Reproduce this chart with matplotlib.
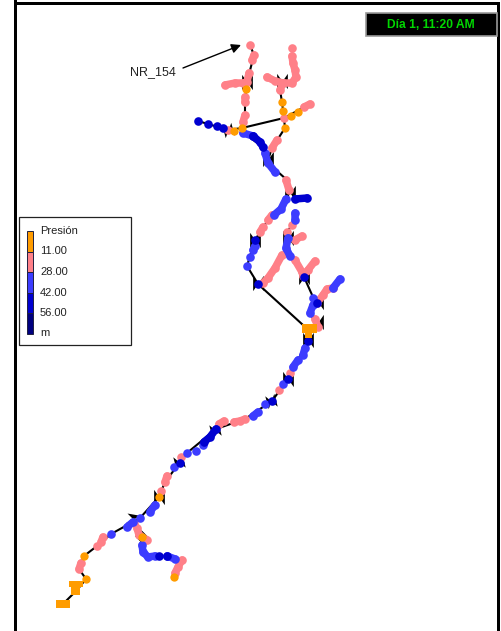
import matplotlib
matplotlib.use("Agg")
import matplotlib.pyplot as plt
from matplotlib.patches import Rectangle
from matplotlib.path import Path
from matplotlib.transforms import Affine2D

plt.rcParams['font.family'] = ['Liberation Sans', 'DejaVu Sans']

# pressure classes
ORANGE = '#FF9C00'
PINK = '#FF8088'
BLUE = '#3C3CFF'
DARK = '#0000D0'
NAVY = '#000080'

legend_labels = ['Presión', '11.00', '28.00', '42.00', '56.00', 'm']
legend_colors = [ORANGE, PINK, BLUE, DARK, NAVY]

# everything below, in image pixels
pipes = [
    [(250, 45), (254, 55), (247, 82), (245, 102), (245, 115), (242, 128), (228, 130), (198, 121)],
    [(242, 128), (284, 118), (282, 102), (280, 90), (283, 83)],
    [(284, 118), (310, 104)],
    [(284, 118), (285, 128), (272, 148), (268, 160)],
    [(242, 132), (263, 147), (268, 163), (287, 180), (289, 190), (286, 199), (282, 209),
     (268, 220), (255, 240), (247, 266), (258, 284), (303, 325)],
    [(295, 213), (292, 225), (287, 232), (288, 238), (286, 248)],
    [(304, 277), (313, 297), (310, 313), (315, 322)],
    [(308, 340), (298, 360), (288, 379), (272, 401), (245, 419), (216, 429), (187, 453),
     (165, 482), (159, 497), (140, 518), (111, 534), (97, 546), (84, 556), (79, 569),
     (86, 579), (77, 590), (63, 604)],
    [(134, 523), (142, 537)],
]

pink_runs = [
    [(250, 45)], [(254, 55), (252, 60)], [(249, 73), (247, 82), (243, 83), (235, 83), (225, 85)],
    [(245, 97), (245, 102)], [(245, 115), (243, 122)], [(228, 130)],
    [(292, 48)], [(292, 56), (293, 63), (295, 70), (296, 77), (292, 83), (283, 83), (275, 81), (267, 77)],
    [(283, 83), (280, 90)], [(284, 118)], [(304, 107), (310, 104)],
    [(277, 140), (272, 148)], [(286, 180), (289, 190)], [(292, 225)], [(287, 232)],
    [(295, 240), (302, 236)], [(295, 260), (302, 272)], [(303, 276), (308, 270), (315, 261)],
    [(282, 255), (275, 268), (268, 278), (263, 283)], [(260, 232), (263, 227)], [(268, 220), (272, 215)],
    [(317, 303), (323, 295), (327, 289), (333, 288)], [(315, 319), (318, 327)],
    [(290, 373)], [(279, 390)], [(245, 419), (240, 421), (234, 422)], [(224, 421), (219, 424)],
    [(181, 457)], [(167, 476), (165, 482)], [(161, 491)], [(134, 523)],
    [(103, 537), (101, 542)], [(97, 546)], [(81, 563), (79, 569)],
    [(137, 528), (139, 535), (147, 540)], [(182, 560), (178, 567), (175, 573)],
]

blue_runs = [
    [(243, 133), (253, 136)], [(265, 153), (268, 163), (275, 172)], [(274, 215), (281, 209), (286, 199)],
    [(295, 213), (295, 220)], [(288, 238), (286, 248), (290, 256)], [(247, 266)], [(250, 257)],
    [(253, 250), (255, 246)], [(313, 298)], [(313, 305), (310, 313)], [(333, 288), (340, 279)],
    [(305, 348), (303, 355)], [(298, 360), (293, 367)], [(283, 384)], [(265, 404)],
    [(258, 412), (253, 416)], [(203, 445)], [(196, 451)], [(187, 453)], [(174, 467)],
    [(155, 505), (150, 512)], [(140, 518)], [(127, 527), (133, 522)], [(111, 534)],
    [(142, 545), (143, 552), (148, 557), (155, 556)], [(167, 556), (175, 559)],
]

dark_runs = [
    [(198, 121)], [(208, 124)], [(217, 126)], [(223, 128)], [(253, 136), (260, 142), (263, 147)],
    [(295, 199), (307, 198)], [(255, 240)], [(258, 284)], [(304, 277)], [(317, 303)], [(308, 341)],
    [(288, 379)], [(272, 401)], [(216, 429), (210, 437), (204, 442)], [(180, 463)], [(159, 556)], [(167, 556)],
]

orange_nodes = [
    (246, 89), (242, 128), (234, 131), (282, 102), (283, 111), (291, 116), (298, 112), (285, 128),
    (159, 497), (142, 537), (84, 556), (86, 579), (174, 577),
]
# reservoirs / tanks, drawn as blocks: x0, y0, x1, y1
orange_blocks = [
    (302, 324, 317, 333), (305, 333, 312, 338), (69, 581, 83, 587), (71, 587, 80, 595), (56, 600, 70, 608),
]

valves_x = [247, 282, 228, 268, 290, 255, 288, 258, 304, 318, 318, 308, 288, 271, 215, 179, 159, 133, 142]
valves_y = [82, 81, 130, 159, 193, 240, 238, 283, 277, 302, 322, 340, 379, 401, 430, 462, 497, 519, 537]
valves_a = [0, 0, 15, 0, 0, 0, 0, 0, 0, 0, 0, 0, 0, 15, 15, 15, 0, 80, 45]

fig = plt.figure(figsize=(5.01, 6.31), dpi=100)
ax = fig.add_axes([0, 0, 1, 1])
ax.set_xlim(0, 501)
ax.set_ylim(631, 0)
ax.axis('off')

# page frame
ax.add_patch(Rectangle((14, 0), 3, 631, color='black', lw=0))
ax.add_patch(Rectangle((14, 2), 486, 3, color='black', lw=0))
ax.add_patch(Rectangle((497, 2), 3, 629, color='black', lw=0))

for p in pipes:
    ax.plot([q[0] for q in p], [q[1] for q in p], color='black', lw=1.5, zorder=2)

# narrower than tall, like the reference
bowtie = Path([(-0.7, -1), (0, 0), (-0.7, 1), (-0.7, -1), (0.7, -1), (0, 0), (0.7, 1), (0.7, -1)],
              [Path.MOVETO, Path.LINETO, Path.LINETO, Path.CLOSEPOLY] * 2)
for x, y, a in zip(valves_x, valves_y, valves_a):
    ax.plot(x, y, marker=bowtie.transformed(Affine2D().rotate_deg(a)), ms=11, color='black', mew=0, zorder=3)

for runs, c, z in [(pink_runs, PINK, 4), (blue_runs, BLUE, 5), (dark_runs, DARK, 6)]:
    for r in runs:
        ax.plot([q[0] for q in r], [q[1] for q in r], color=c, lw=5.4, marker='o', ms=6.2, mew=0,
                solid_capstyle='round', zorder=z)

ax.plot([q[0] for q in orange_nodes], [q[1] for q in orange_nodes], ls='none', marker='o', ms=6,
        mew=0, color=ORANGE, zorder=7)
for x0, y0, x1, y1 in orange_blocks:
    ax.add_patch(Rectangle((x0, y0), x1 - x0, y1 - y0, color=ORANGE, lw=0, zorder=7))

# node label
ax.text(130, 72, 'NR_154', fontsize=9, color='#222222', va='center', ha='left')
ax.annotate('', xy=(241, 45), xytext=(183, 68),
            arrowprops=dict(arrowstyle='-|>', color='black', lw=1, mutation_scale=14, shrinkA=0, shrinkB=0))

# legend
ax.add_patch(Rectangle((19.5, 217), 111.5, 128, fc='white', ec='#222222', lw=0.9, zorder=8))
seg = 20.5
for i, c in enumerate(legend_colors):
    ax.add_patch(Rectangle((27, 231 + i * seg), 6, seg, fc=c, ec='#202040', lw=0.7, zorder=9))
for i, lab in enumerate(legend_labels):
    ax.text(40, 231 + i * seg, lab, fontsize=8, color='#222222', va='center', ha='left', zorder=9)

# clock
ax.add_patch(Rectangle((366, 13), 131, 23, fc='black', ec='#999999', lw=1.2, zorder=8))
ax.text(431, 25, 'Día 1, 11:20 AM', fontsize=8.7, fontweight='bold', color='#00D800',
        va='center', ha='center', zorder=9)

fig.savefig('out.png', dpi=100)
